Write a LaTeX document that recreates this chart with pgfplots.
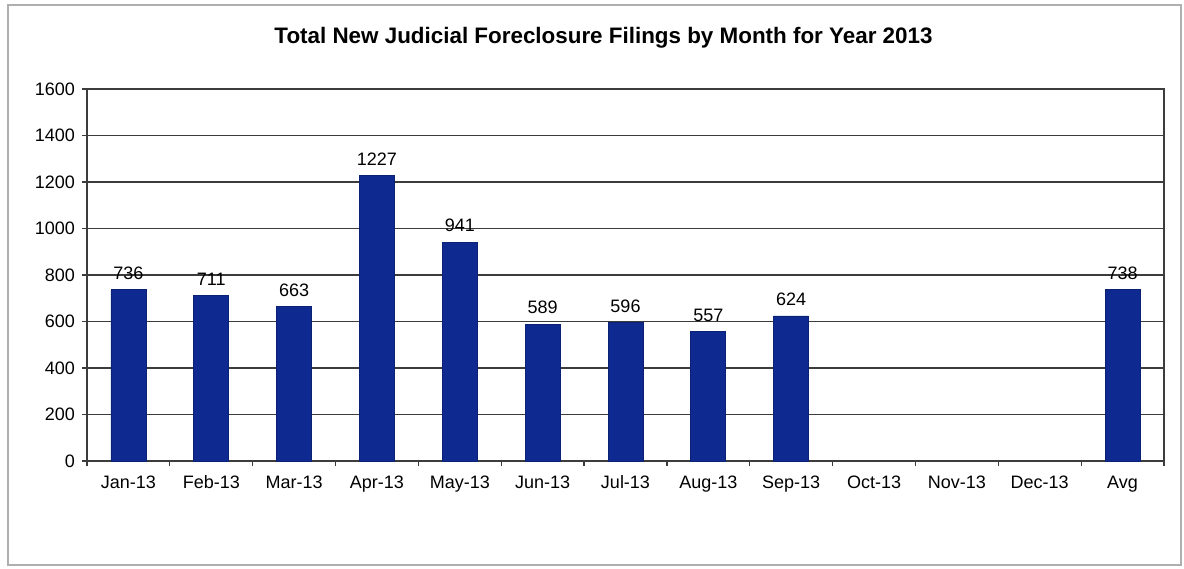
\documentclass[border=0pt]{standalone}
\usepackage{pgfplots}
\pgfplotsset{compat=1.18}
\usepackage{fontspec}
\setmainfont{Liberation Sans}
\definecolor{barblue}{RGB}{14,42,145}
\definecolor{framegray}{RGB}{175,175,175}
\definecolor{gridgray}{RGB}{60,60,60}
\begin{document}
\begin{tikzpicture}
\path (0,0) rectangle (592pt,-284pt);
\draw[framegray, line width=0.8pt] (4pt,-2.5pt) rectangle (590.5pt,-282.5pt);
\node[font=\fontsize{11.2}{13}\selectfont\bfseries] at (301.75pt,-19pt)
  {Total New Judicial Foreclosure Filings by Month for Year 2013};
\begin{axis}[
    at={(43.5pt,-230.5pt)}, anchor=south west,
    scale only axis, width=538.5pt, height=186pt,
    ybar, bar width=17.5pt, bar shift=0pt,
    xmin=-0.5, xmax=12.5,
    ymin=0, ymax=1600, ytick={0,200,...,1600},
    xtick={0,...,12},
    xticklabels={Jan-13,Feb-13,Mar-13,Apr-13,May-13,Jun-13,Jul-13,Aug-13,Sep-13,Oct-13,Nov-13,Dec-13,Avg},
    minor xtick={-0.5,0.5,...,12.5},
    major x tick style={draw=none},
    tick align=outside, tick pos=left,
    major tick length=2.5pt, minor tick length=2.5pt,
    tick style={gridgray, line width=0.6pt},
    ymajorgrids, major grid style={gridgray, line width=0.6pt},
    axis line style={gridgray, line width=0.6pt},
    ticklabel style={font=\fontsize{9}{10}\selectfont},
    xticklabel style={text height=6.5pt, text depth=2pt, yshift=-1pt},
    /pgf/number format/assume math mode=true,
    /pgf/number format/1000 sep={},
    nodes near coords,
    every node near coord/.append style={font=\fontsize{9}{10}\selectfont, yshift=1.5pt, black},
  ]
  \addplot[fill=barblue, draw=barblue!80!black]
  coordinates {(0,736) (1,711) (2,663) (3,1227) (4,941) (5,589) (6,596) (7,557) (8,624) (12,738)};
\end{axis}
\end{tikzpicture}
\end{document}
